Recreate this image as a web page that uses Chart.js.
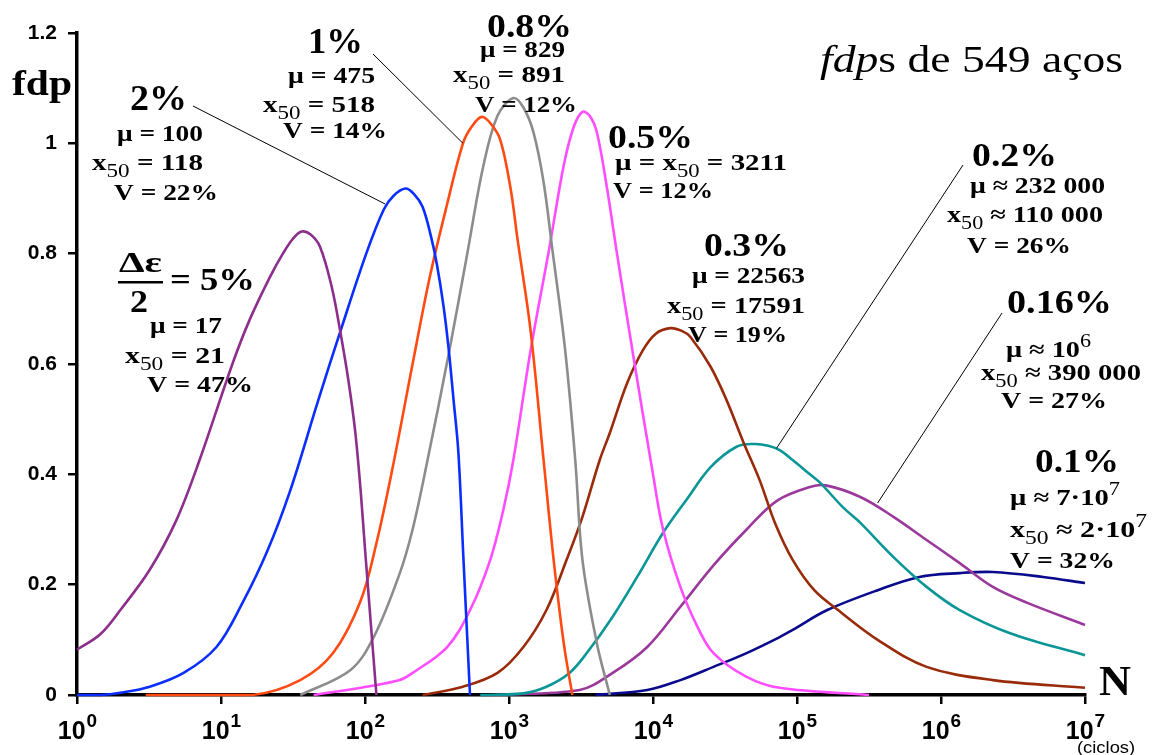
<!DOCTYPE html>
<html lang="pt">
<head>
<meta charset="UTF-8">
<title>fdps de 549 aços</title>
<script src="https://cdn.jsdelivr.net/npm/chart.js@4.4.1/dist/chart.umd.min.js"></script>
<style>
body { margin: 0; background: #fff; }
#wrap { width: 1155px; height: 755px; }
</style>
</head>
<body>
<div id="wrap"><canvas id="fdpChart" width="1155" height="755"></canvas></div>
<script>
// N (ciclos) and fdp, one pair per strain amplitude
const n5 = [1, 1.45, 2, 3.2, 4.9, 7.1, 12, 15.8, 21.9, 26.9, 31.6, 36.3, 41.7, 48.7, 58.7, 67, 76.6, 85.3, 93.3, 100, 120];
const f5 = [0.082, 0.11, 0.154, 0.227, 0.317, 0.426, 0.60, 0.68, 0.758, 0.80, 0.827, 0.84, 0.835, 0.8125, 0.74, 0.662, 0.571, 0.48, 0.37, 0.265, 0];

const n2 = [1, 1.45, 2, 3.2, 5.5, 9.3, 14.1, 20.9, 30.2, 46.8, 67.6, 102, 135, 158, 191, 219, 251, 288, 316, 351, 380, 412, 445, 482, 536];
const f2 = [0, 0, 0.004, 0.015, 0.04, 0.087, 0.167, 0.26, 0.37, 0.53, 0.66, 0.80, 0.88, 0.905, 0.918, 0.908, 0.885, 0.83, 0.78, 0.705, 0.63, 0.535, 0.44, 0.25, 0];

const n1 = [3, 16.6, 35.5, 60, 93, 120, 155, 214, 282, 372, 479, 550, 646, 750, 871, 1023, 1148, 1413, 1738, 2042, 2399, 2754];
const f1 = [0, 0, 0.027, 0.076, 0.17, 0.275, 0.41, 0.60, 0.758, 0.89, 1.0, 1.03, 1.048, 1.035, 1.006, 0.92, 0.825, 0.66, 0.426, 0.245, 0.094, 0];

const n08 = [35.5, 79, 115, 174, 214, 269, 389, 513, 661, 832, 1072, 1259, 1479, 1738, 1995, 2455, 2884, 3236, 4074, 5012];
const f08 = [0, 0.045, 0.105, 0.22, 0.30, 0.42, 0.63, 0.80, 0.957, 1.05, 1.082, 1.065, 1.02, 0.93, 0.81, 0.625, 0.426, 0.245, 0.094, 0];

const n05 = [44, 102, 174, 214, 372, 537, 741, 912, 1072, 1413, 1905, 2399, 2818, 3236, 3631, 4074, 4786, 5623, 7244, 10000, 11750, 15490, 20420, 26300, 44670, 75860, 316000];
const f05 = [0, 0.015, 0.027, 0.04, 0.087, 0.154, 0.245, 0.335, 0.426, 0.625, 0.81, 0.96, 1.03, 1.057, 1.05, 1.02, 0.92, 0.80, 0.62, 0.40, 0.30, 0.196, 0.123, 0.076, 0.033, 0.013, 0];

const n03 = [251, 479, 832, 1259, 1820, 2512, 3236, 4266, 5012, 6607, 8511, 10470, 13180, 15850, 18200, 25120, 32360, 42660, 54950, 70790, 93330, 131800, 190500, 363100, 794300, 2291000, 10000000];
const f03 = [0, 0.015, 0.04, 0.087, 0.154, 0.245, 0.323, 0.426, 0.475, 0.565, 0.625, 0.655, 0.665, 0.66, 0.649, 0.595, 0.535, 0.457, 0.39, 0.31, 0.245, 0.19, 0.155, 0.10, 0.051, 0.027, 0.013];

const n02 = [631, 1259, 1820, 2630, 3467, 5248, 7762, 11750, 16980, 25120, 38020, 50120, 63100, 75860, 93330, 123000, 144500, 208900, 275400, 467700, 794300, 1349000, 3020000, 10000000];
const f02 = [0, 0.003, 0.015, 0.04, 0.076, 0.142, 0.214, 0.294, 0.353, 0.413, 0.45, 0.455, 0.452, 0.444, 0.426, 0.40, 0.385, 0.34, 0.312, 0.25, 0.196, 0.154, 0.112, 0.072];

const n016 = [794, 3090, 5248, 9120, 15490, 26300, 44670, 72440, 123000, 158500, 275400, 467700, 794300, 1349000, 2291000, 3981000, 10000000];
const f016 = [0, 0.009, 0.04, 0.087, 0.16, 0.235, 0.30, 0.352, 0.377, 0.38, 0.359, 0.323, 0.281, 0.239, 0.196, 0.167, 0.127];

const n01 = [3981, 9120, 15490, 26300, 44670, 75860, 93330, 162200, 363100, 707900, 1349000, 2291000, 5129000, 10000000];
const f01 = [0, 0.009, 0.027, 0.051, 0.076, 0.105, 0.118, 0.154, 0.19, 0.214, 0.221, 0.223, 0.214, 0.203];

const decades = [1, 10, 100, 1e3, 1e4, 1e5, 1e6, 1e7];
const yTicks = [0, 0.2, 0.4, 0.6, 0.8, 1, 1.2];
const yLabels = ['0', '0.2', '0.4', '0.6', '0.8', '1', '1.2'];

const curves = [
    { label: '5%',    n: n5,   f: f5,   color: '#8c2e8c' },
    { label: '2%',    n: n2,   f: f2,   color: '#0a2eff' },
    { label: '1%',    n: n1,   f: f1,   color: '#ff4a12' },
    { label: '0.8%',  n: n08,  f: f08,  color: '#8c8c8c' },
    { label: '0.5%',  n: n05,  f: f05,  color: '#ff4dff' },
    { label: '0.3%',  n: n03,  f: f03,  color: '#992b0a' },
    { label: '0.2%',  n: n02,  f: f02,  color: '#0a9696' },
    { label: '0.16%', n: n016, f: f016, color: '#9b389b' },
    { label: '0.1%',  n: n01,  f: f01,  color: '#0a0a8c' }
];

const SERIF = '"Liberation Serif", "Times New Roman", serif';
const SANS = '"Liberation Sans", Arial, sans-serif';

// text blocks: [text, left, baseline, size, width]
const notes = [
    ['fdp', 12, 95, 36, 60],
    ['2%', 130, 110, 36, 57],
    ['μ = 100', 117, 141, 24, 86],
    ['x_{50} = 118', 92, 170, 24, 111],
    ['V = 22%', 114, 200, 24, 104],
    ['1%', 308, 53, 36, 55],
    ['μ = 475', 288, 83, 24, 87],
    ['x_{50} = 518', 263, 112, 24, 112],
    ['V = 14%', 283, 138, 24, 104],
    ['0.8%', 487, 37, 34, 85],
    ['μ = 829', 480, 57, 23, 85],
    ['x_{50} = 891', 453, 82, 23, 112],
    ['V = 12%', 475, 112, 23, 102],
    ['0.5%', 608, 148, 34, 85],
    ['μ = x_{50} = 3211', 615, 170, 23, 172],
    ['V = 12%', 613, 198, 23, 100],
    ['0.3%', 704, 256, 34, 85],
    ['μ = 22563', 692, 283, 23, 113],
    ['x_{50} = 17591', 667, 313, 23, 138],
    ['V = 19%', 688, 342, 23, 99],
    ['0.2%', 972, 166, 34, 85],
    ['μ ≈ 232 000', 970, 193, 23, 135],
    ['x_{50} ≈ 110 000', 947, 222, 23, 156],
    ['V = 26%', 967, 253, 23, 104],
    ['0.16%', 1007, 313, 34, 105],
    ['μ ≈ 10^{6}', 1006, 357, 23, 85],
    ['x_{50} ≈ 390 000', 981, 380, 23, 160],
    ['V = 27%', 1001, 408, 23, 106],
    ['0.1%', 1035, 472, 34, 84],
    ['μ ≈ 7·10^{7}', 1010, 505, 23, 110],
    ['x_{50} ≈ 2·10^{7}', 1010, 537, 23, 137],
    ['V = 32%', 1010, 568, 23, 105],
    ['= 5%', 170, 290, 32, 85],
    ['μ = 17', 150, 333, 23, 72],
    ['x_{50} = 21', 125, 363, 23, 100],
    ['V = 47%', 147, 392, 23, 106],
    ['N', 1099, 695, 42, 32]
];

// leader lines: text end (px) to a point on the curve (N, fdp)
const leaders = [
    [193, 106, 138, 0.89],
    [373, 54, 479, 1.0],
    [963, 165, 72000, 0.447],
    [1002, 313, 363000, 0.348]
];

function rich(ctx, str, x, y, size, width) {
    const parts = [];
    const re = /([_^])\{([^}]*)\}/g;
    let last = 0, m;
    while ((m = re.exec(str))) {
        if (m.index > last) parts.push({ t: str.slice(last, m.index), k: '' });
        parts.push({ t: m[2], k: m[1] });
        last = re.lastIndex;
    }
    if (last < str.length) parts.push({ t: str.slice(last), k: '' });
    const fontOf = p => p.k ? Math.round(size * 0.8) + 'px ' + SERIF : 'bold ' + size + 'px ' + SERIF;
    let total = 0;
    parts.forEach(p => { ctx.font = fontOf(p); p.w = ctx.measureText(p.t).width; total += p.w; });
    ctx.save();
    ctx.translate(x, y);
    ctx.scale(width ? width / total : 1, 1);
    let cx = 0;
    parts.forEach(p => {
        ctx.font = fontOf(p);
        const dy = p.k === '_' ? size * 0.3 : (p.k === '^' ? -size * 0.42 : 0);
        ctx.fillText(p.t, cx, dy);
        cx += p.w;
    });
    ctx.restore();
}

const decor = {
    id: 'decor',
    afterDraw(chart) {
        const ctx = chart.ctx;
        const xs = chart.scales.x, ys = chart.scales.y;
        ctx.save();
        ctx.fillStyle = '#000';
        ctx.textBaseline = 'alphabetic';
        ctx.textAlign = 'left';

        // x tick labels 10^k
        decades.forEach((d, k) => {
            const px = xs.getPixelForValue(d);
            ctx.font = 'bold 25px ' + SANS;
            const w1 = ctx.measureText('10').width;
            ctx.font = 'bold 19px ' + SANS;
            const w2 = ctx.measureText(String(k)).width;
            const x0 = px - (w1 + w2) / 2;
            ctx.font = 'bold 25px ' + SANS;
            ctx.fillText('10', x0, 739);
            ctx.font = 'bold 19px ' + SANS;
            ctx.fillText(String(k), x0 + w1 + 1, 727);
        });
        ctx.font = '17px ' + SANS;
        ctx.save();
        ctx.translate(1077, 753);
        ctx.scale(1.08, 1);
        ctx.fillText('(ciclos)', 0, 0);
        ctx.restore();

        // title
        ctx.font = 'italic 38px ' + SERIF;
        const wa = ctx.measureText('fdp').width;
        ctx.font = '38px ' + SERIF;
        const wb = ctx.measureText('s de 549 aços').width;
        ctx.save();
        ctx.translate(820, 72);
        ctx.scale(303 / (wa + wb), 1);
        ctx.font = 'italic 38px ' + SERIF;
        ctx.fillText('fdp', 0, 0);
        ctx.font = '38px ' + SERIF;
        ctx.fillText('s de 549 aços', wa, 0);
        ctx.restore();

        notes.forEach(a => rich(ctx, a[0], a[1], a[2], a[3], a[4]));

        // fraction Δε / 2
        rich(ctx, 'Δε', 119, 272, 30, 43);
        ctx.fillRect(118, 281, 45, 2.5);
        rich(ctx, '2', 130, 312, 31, 18);

        // leader lines
        ctx.strokeStyle = '#000';
        ctx.lineWidth = 1;
        leaders.forEach(l => {
            ctx.beginPath();
            ctx.moveTo(l[0], l[1]);
            ctx.lineTo(xs.getPixelForValue(l[2]), ys.getPixelForValue(l[3]));
            ctx.stroke();
        });
        ctx.restore();
    }
};

new Chart(document.getElementById('fdpChart'), {
    type: 'scatter',
    data: {
        datasets: curves.map(c => ({
            label: c.label,
            data: c.n.map((v, i) => ({ x: v, y: c.f[i] })),
            showLine: true,
            borderColor: c.color,
            backgroundColor: c.color,
            borderWidth: 2.6,
            pointRadius: 0,
            tension: 0.35,
            clip: false
        }))
    },
    options: {
        responsive: false,
        animation: false,
        layout: { padding: { left: 0, top: 33, right: 70, bottom: 0 } },
        plugins: { legend: { display: false }, tooltip: { enabled: false } },
        scales: {
            x: {
                type: 'logarithmic',
                min: 1,
                max: 1e7,
                afterBuildTicks: s => { s.ticks = decades.map(v => ({ value: v, major: true })); },
                afterFit: s => { s.height = 60; },
                ticks: { display: false },
                grid: { drawOnChartArea: false, drawTicks: true, tickLength: 9, color: '#000', lineWidth: 2.5 },
                border: { display: true, color: '#000', width: 3.5 }
            },
            y: {
                min: 0,
                max: 1.2,
                afterBuildTicks: s => { s.ticks = yTicks.map(v => ({ value: v })); },
                afterFit: s => { s.width = 77; },
                ticks: {
                    padding: 11,
                    color: '#000',
                    font: { family: SANS, weight: 'bold', size: 21 },
                    callback: (v, i) => yLabels[i]
                },
                grid: { drawOnChartArea: false, drawTicks: true, tickLength: 9, color: '#000', lineWidth: 2.5 },
                border: { display: true, color: '#000', width: 3.5 }
            }
        }
    },
    plugins: [decor]
});
</script>
</body>
</html>
